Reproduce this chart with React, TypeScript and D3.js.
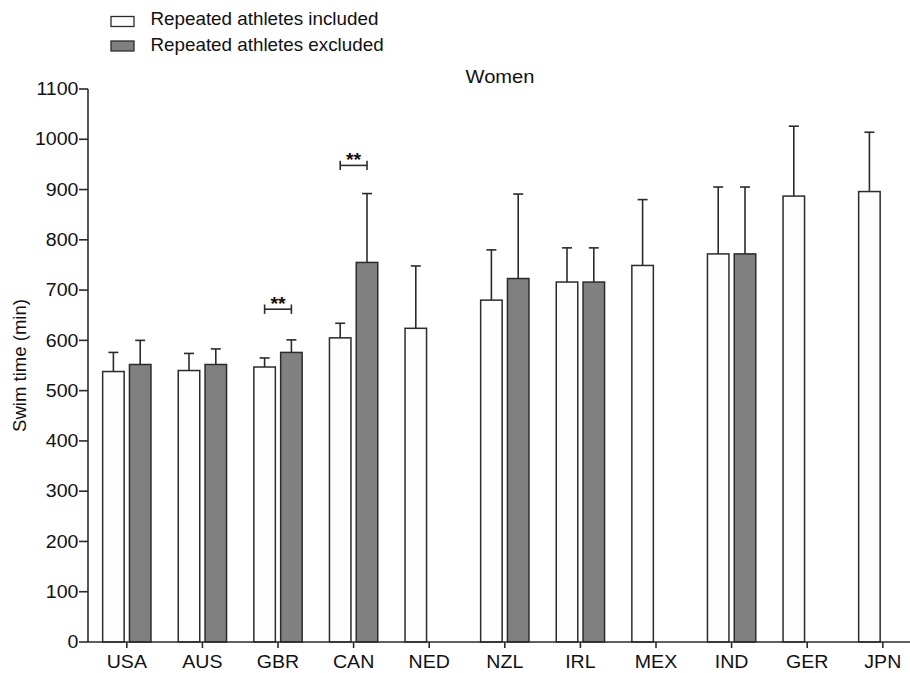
import React from "react";
import * as d3 from "d3";

const categories = ["USA", "AUS", "GBR", "CAN", "NED", "NZL", "IRL", "MEX", "IND", "GER", "JPN"];
const includedMean = [538, 540, 547, 605, 624, 680, 716, 749, 772, 887, 896];
const includedSD = [38, 34, 18, 29, 124, 100, 68, 131, 133, 139, 118];
const excludedMean: (number | null)[] = [552, 552, 576, 755, null, 723, 716, null, 772, null, null];
const excludedSD: (number | null)[] = [48, 31, 25, 137, null, 168, 68, null, 133, null, null];
const yTicks = [0, 100, 200, 300, 400, 500, 600, 700, 800, 900, 1000, 1100];
const sigCategories = ["GBR", "CAN"];
const sigLevels = [662, 948];
const sigLabels = ["**", "**"];
const legendLabels = ["Repeated athletes included", "Repeated athletes excluded"];
const title = "Women";
const yLabel = "Swim time (min)";

const W = 910;
const H = 673;
const FONT = "'Liberation Sans', Arial, sans-serif";
const INK = "#2b2b2b";
const GREY = "#808080";
const WHITE = "#fdfdfd";
const FS = 17.5;
const SX = 1.12;

function T(props: { x: number; y: number; anchor?: string; children: React.ReactNode; weight?: string; sx?: number }) {
  return (
    <text
      transform={`translate(${props.x},${props.y}) scale(${props.sx ?? SX},1)`}
      fontSize={FS}
      textAnchor={props.anchor || "start"}
      fontWeight={props.weight || "normal"}
      fill="#111"
      stroke="none"
    >
      {props.children}
    </text>
  );
}

export default function App() {
  const y = d3.scaleLinear().domain([0, 1100]).range([642, 89]);
  const x = d3.scaleBand<string>().domain(categories).range([89, 920.6]).paddingInner(0).paddingOuter(0);
  const bw = 21.5;
  const off = 13.4;
  const cx = (c: string) => (x(c) as number) + x.bandwidth() / 2;

  const bars: { c: string; mean: number; sd: number; fill: string; center: number }[] = [];
  categories.forEach((c, i) => {
    bars.push({ c, mean: includedMean[i], sd: includedSD[i], fill: WHITE, center: cx(c) - off });
    const em = excludedMean[i];
    const es = excludedSD[i];
    if (em != null && es != null) bars.push({ c, mean: em, sd: es, fill: GREY, center: cx(c) + off });
  });

  return (
    <svg width={W} height={H} style={{ position: "absolute", left: 0, top: 0, background: "#fff" }} fontFamily={FONT}>
      {/* legend */}
      {legendLabels.map((l, i) => (
        <g key={l}>
          <rect x={111} y={16.5 + i * 24.5} width={23} height={10} fill={i === 0 ? WHITE : GREY} stroke={INK} strokeWidth={1.3} />
          <T x={150.5} y={25 + i * 26} sx={1.075}>{l}</T>
        </g>
      ))}
      <T x={500} y={83.3} anchor="middle" sx={1.15}>{title}</T>

      {/* bars */}
      {bars.map((b, i) => (
        <g key={i}>
          <line x1={b.center} x2={b.center} y1={y(b.mean)} y2={y(b.mean + b.sd)} stroke={INK} strokeWidth={1.6} />
          <line x1={b.center - 5} x2={b.center + 5} y1={y(b.mean + b.sd)} y2={y(b.mean + b.sd)} stroke={INK} strokeWidth={1.6} />
          <rect x={b.center - bw / 2} y={y(b.mean)} width={bw} height={y(0) - y(b.mean)} fill={b.fill} stroke={INK} strokeWidth={1.5} />
        </g>
      ))}

      {/* significance */}
      {sigCategories.map((c, i) => {
        const x1 = cx(c) - off;
        const x2 = cx(c) + off;
        const yy = y(sigLevels[i]);
        return (
          <g key={c} stroke={INK} strokeWidth={1.6}>
            <line x1={x1} x2={x2} y1={yy} y2={yy} />
            <line x1={x1} x2={x1} y1={yy - 4.7} y2={yy + 4.7} />
            <line x1={x2} x2={x2} y1={yy - 4.7} y2={yy + 4.7} />
            <T x={(x1 + x2) / 2} y={yy + 0.5} anchor="middle" weight="bold">{sigLabels[i]}</T>
          </g>
        );
      })}

      {/* y axis */}
      <line x1={88} x2={88} y1={y(0)} y2={y(1100)} stroke={INK} strokeWidth={1.6} />
      {yTicks.map((t) => (
        <g key={t}>
          <line x1={79} x2={88} y1={y(t)} y2={y(t)} stroke={INK} strokeWidth={1.6} />
          <T x={78.5} y={y(t) + 6.2} anchor="end">{t}</T>
        </g>
      ))}
      <text transform={`translate(26, ${y(550)}) rotate(-90) scale(1.06,1)`} fontSize={FS} textAnchor="middle" fill="#111">{yLabel}</text>

      {/* x axis */}
      <line x1={88} x2={920} y1={y(0)} y2={y(0)} stroke={INK} strokeWidth={1.6} />
      {categories.map((c) => (
        <g key={c}>
          <line x1={cx(c)} x2={cx(c)} y1={y(0)} y2={y(0) + 6} stroke={INK} strokeWidth={1.6} />
          <T x={cx(c)} y={668} anchor="middle">{c}</T>
        </g>
      ))}
    </svg>
  );
}
